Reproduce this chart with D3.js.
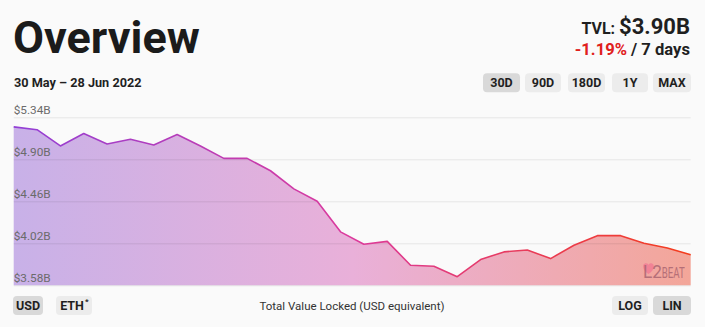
<!DOCTYPE html>
<html>
<head>
<meta charset="utf-8">
<script src="https://cdn.jsdelivr.net/npm/d3@7"></script>
<style>
  html, body { margin: 0; padding: 0; background: #fafafa; }
  svg { display: block; font-family: Roboto, "Noto Sans", sans-serif; }
</style>
</head>
<body>
<svg id="chart" width="705" height="327"></svg>
<script>
// Daily total value locked, 30 May – 28 Jun 2022 (billions of USD)
const startDate = "2022-05-30";
const tvl = [5.24, 5.21, 5.04, 5.17, 5.06, 5.11, 5.05, 5.16, 5.04, 4.91,
             4.91, 4.78, 4.59, 4.46, 4.14, 4.01, 4.04, 3.79, 3.78, 3.67,
             3.85, 3.93, 3.95, 3.86, 4.00, 4.10, 4.10, 4.02, 3.97, 3.90];
const yTicks = [3.58, 4.02, 4.46, 4.90, 5.34];
const rangeButtons = ["30D", "90D", "180D", "1Y", "MAX"];
const currencyButtons = ["USD", "ETH"];
const scaleButtons = ["LOG", "LIN"];

const svg = d3.select("#chart");
const parse = d3.utcParse("%Y-%m-%d");
const t0 = parse(startDate);
const data = tvl.map((v, i) => ({ date: d3.utcDay.offset(t0, i), value: v }));

const plotL = 13.7, plotR = 690.7, plotT = 117.3, plotB = 285.3;

const x = d3.scaleUtc()
  .domain(d3.extent(data, d => d.date))
  .range([plotL, plotR]);
const y = d3.scaleLinear()
  .domain([yTicks[0], yTicks[yTicks.length - 1]])
  .range([plotB, plotT]);

const defs = svg.append("defs");
const fillGrad = defs.append("linearGradient")
  .attr("id", "fillGrad").attr("gradientUnits", "userSpaceOnUse")
  .attr("x1", plotL).attr("x2", plotR).attr("y1", 0).attr("y2", 0);
[["0%", "#c8b1e8"], ["50%", "#e9b0d9"], ["100%", "#f3a699"]]
  .forEach(([o, c]) => fillGrad.append("stop").attr("offset", o).attr("stop-color", c));
const lineGrad = defs.append("linearGradient")
  .attr("id", "lineGrad").attr("gradientUnits", "userSpaceOnUse")
  .attr("x1", plotL).attr("x2", plotR).attr("y1", 0).attr("y2", 0);
[["0%", "#923fd6"], ["50%", "#dc3a9c"], ["100%", "#f43d1c"]]
  .forEach(([o, c]) => lineGrad.append("stop").attr("offset", o).attr("stop-color", c));

// Area under the line
svg.append("path")
  .datum(data)
  .attr("fill", "url(#fillGrad)")
  .attr("d", d3.area().x(d => x(d.date)).y0(plotB).y1(d => y(d.value)));

// Grid lines and value labels
const axis = d3.axisRight(y)
  .tickValues(yTicks)
  .tickSize(plotR - plotL)
  .tickFormat(d => "$" + d.toFixed(2) + "B");
const g = svg.append("g").attr("transform", `translate(${plotL},0)`).call(axis);
g.select(".domain").remove();
g.selectAll(".tick line").attr("stroke", "rgba(0,0,0,0.08)").attr("stroke-width", 1);
g.selectAll(".tick text")
  .attr("x", 0).attr("dy", -4).attr("text-anchor", "start")
  .attr("fill", "#6b6b6b").attr("font-size", 11.8)
  .attr("font-family", "Roboto, sans-serif");

svg.append("path")
  .datum(data)
  .attr("fill", "none")
  .attr("stroke", "url(#lineGrad)")
  .attr("stroke-width", 1.6)
  .attr("stroke-linejoin", "round")
  .attr("d", d3.line().x(d => x(d.date)).y(d => y(d.value)));

// Watermark logo
const logo = svg.append("g").attr("transform", "translate(643,263)").attr("opacity", 0.85);
logo.append("path")
  .attr("d", "M5.5,11 C-1,7 -1,1 2.5,0.3 C4.2,0 5.2,1 5.5,2 C5.8,1 6.8,0 8.5,0.3 C12,1 12,7 5.5,11 Z")
  .attr("fill", "#f06f92").attr("opacity", 0.75);
logo.append("text").attr("x", 0).attr("y", 15).text("L2")
  .attr("font-size", 19).attr("fill", "#9a5668").attr("font-family", "Roboto, sans-serif")
  .attr("opacity", 0.8).attr("textLength", 19).attr("lengthAdjust", "spacingAndGlyphs");
logo.append("text").attr("x", 18.7).attr("y", 15).text("BEAT")
  .attr("font-size", 15).attr("fill", "#9a5668").attr("font-family", "Roboto, sans-serif")
  .attr("opacity", 0.8).attr("textLength", 23).attr("lengthAdjust", "spacingAndGlyphs");

// Title and subtitle
svg.append("text").attr("x", 13).attr("y", 52.5).text("Overview")
  .attr("font-size", 45).attr("font-weight", 700).attr("fill", "#1b1b1b");
svg.append("text").attr("x", 14).attr("y", 87.3).text("30 May – 28 Jun 2022")
  .attr("font-size", 12.7).attr("font-weight", 700).attr("fill", "#1f1f1f");

// TVL summary
const tvlText = svg.append("text").attr("x", 690).attr("y", 34.3).attr("text-anchor", "end")
  .attr("fill", "#1f1f1f").attr("font-weight", 700);
tvlText.append("tspan").text("TVL: ").attr("font-size", 16);
tvlText.append("tspan").text("$" + tvl[tvl.length - 1].toFixed(2) + "B").attr("font-size", 22);

const chText = svg.append("text").attr("x", 690).attr("y", 55).attr("text-anchor", "end")
  .attr("font-size", 16.6).attr("font-weight", 700);
chText.append("tspan").text("-1.19%").attr("fill", "#e0201c");
chText.append("tspan").text(" / 7 days").attr("fill", "#1f1f1f");

// Buttons
function buttons(labels, x0s, widths, yTop, active) {
  labels.forEach((lab, i) => {
    const bg = svg.append("g");
    bg.append("rect")
      .attr("x", x0s[i]).attr("y", yTop).attr("width", widths[i]).attr("height", 19)
      .attr("rx", 4)
      .attr("fill", lab === active ? "#d9d9d9" : "#ececec");
    const t = bg.append("text")
      .attr("x", x0s[i] + widths[i] / 2).attr("y", yTop + 14)
      .attr("text-anchor", "middle").attr("font-size", 12.5).attr("font-weight", 700)
      .attr("fill", "#1f1f1f").text(lab);
    if (lab === "ETH") {
      t.attr("x", x0s[i] + widths[i] / 2 - 2);
      bg.append("text").attr("x", x0s[i] + widths[i] / 2 + 11).attr("y", yTop + 8)
        .attr("font-size", 8).attr("font-weight", 700).attr("fill", "#1f1f1f").text("*");
    }
  });
}
buttons(rangeButtons, [483, 525, 568, 612, 653], [37, 36, 37, 36, 38], 73.3, "30D");
buttons(currencyButtons, [13, 56], [30, 36], 296, "USD");
buttons(scaleButtons, [612, 653], [36, 38], 296, "LIN");

svg.append("text").attr("x", 352).attr("y", 310).attr("text-anchor", "middle")
  .attr("font-size", 11.5).attr("fill", "#333").text("Total Value Locked (USD equivalent)");
</script>
</body>
</html>
